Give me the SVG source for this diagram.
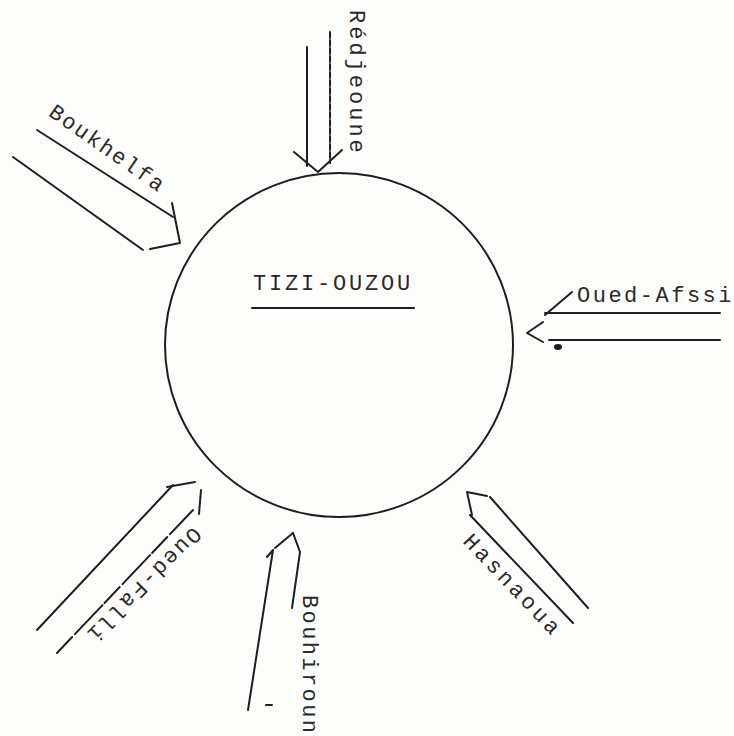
<svg xmlns="http://www.w3.org/2000/svg" width="734" height="736" viewBox="0 0 734 736">
<style>
.ln{fill:none;stroke:#1e1e1e;stroke-width:2;stroke-linecap:round;stroke-linejoin:round}
.tx{font-family:"Liberation Mono","DejaVu Sans Mono",monospace;font-size:22px;fill:#2a2a2a}
</style>
<rect width="734" height="736" fill="#fdfdfb"/>
<g id="tizi-ouzou">
<ellipse cx="339" cy="345" rx="174" ry="172" class="ln" stroke-width="2.2"/>
<text class="tx" x="253" y="290" letter-spacing="2.8">TIZI-OUZOU</text>
<line x1="252" y1="308" x2="414" y2="308" class="ln" stroke-width="2.6"/>
</g>
<g id="connectors">
<g id="c-redjeoune">
<line x1="307" y1="47" x2="307" y2="166" class="ln"/>
<line x1="330" y1="32" x2="330" y2="163" class="ln" stroke-dasharray="6 2"/>
<polyline points="294,152 318,172 342,150" class="ln"/>
</g>
<g id="c-boukhelfa">
<line x1="37" y1="130" x2="173" y2="217" class="ln"/>
<line x1="13" y1="157" x2="143" y2="250" class="ln"/>
<polyline points="172,203 180,243 150,249" class="ln"/>
</g>
<g id="c-oued-afssi">
<line x1="545" y1="313" x2="720" y2="313" class="ln" stroke-width="2.4"/>
<line x1="549" y1="340" x2="720" y2="340" class="ln" stroke-width="2.4"/>
<polyline points="543,322 527,333 543,342" class="ln"/>
<line x1="545" y1="315" x2="572" y2="292" class="ln" stroke-width="1.5"/>
<ellipse cx="558" cy="347" rx="4" ry="3" fill="#1e1e1e"/>
</g>
<g id="c-hasnaoua">
<line x1="490" y1="497" x2="588" y2="608" class="ln" stroke-width="2.4"/>
<line x1="470" y1="515" x2="573" y2="623" class="ln"/>
<polyline points="487,496 467,492 472,515" class="ln"/>
</g>
<g id="c-bouhiroun">
<polyline points="248,710 273,550 267,557" class="ln" stroke-width="2.2"/>
<line x1="275" y1="548" x2="293" y2="533" class="ln"/>
<polyline points="292,608 300,552 293,533" class="ln" stroke-width="2.2"/>
<line x1="266" y1="705" x2="272" y2="705" class="ln" stroke-width="1.5"/>
</g>
<g id="c-oued-falli">
<line x1="37" y1="630" x2="173" y2="485" class="ln" stroke-width="2.2"/>
<line x1="167" y1="487" x2="195" y2="482" class="ln"/>
<line x1="201" y1="490" x2="199" y2="514" class="ln"/>
<line x1="57" y1="653" x2="193" y2="510" class="ln" stroke-dasharray="22 4 40 3"/>
</g>
</g>
<g id="labels">
<text class="tx" transform="translate(350,10) rotate(90)" letter-spacing="3">Rédjeoune</text>
<text class="tx" transform="translate(47.6,115) rotate(35)" letter-spacing="2">Boukhelfa</text>
<text class="tx" x="577" y="302" letter-spacing="2.5">Oued-Afssi</text>
<text class="tx" transform="translate(462,542) rotate(46.4)" letter-spacing="3.4">Hasnaoua</text>
<text class="tx" transform="translate(303,595) rotate(90)" letter-spacing="2.4">Bouhiroun</text>
<text class="tx" transform="translate(193,526) rotate(135)" letter-spacing="2.1">Oued-Falli</text>
</g>
</svg>
